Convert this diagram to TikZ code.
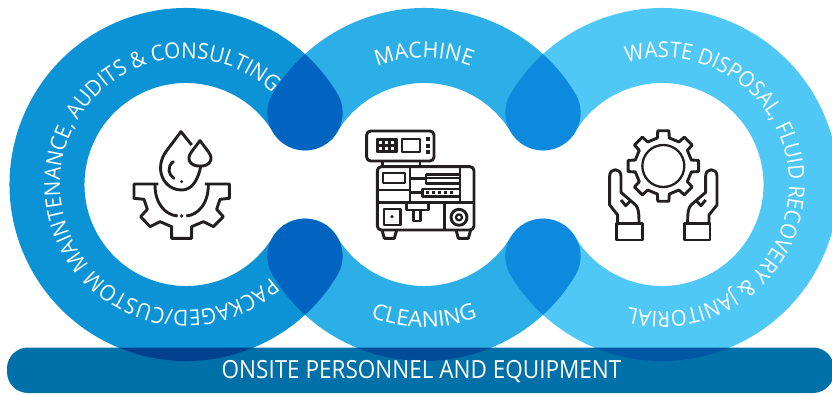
\documentclass[tikz,border=0pt]{standalone}
\usepackage{fontspec}
\usetikzlibrary{decorations.text}
\newfontfamily\ringfont[FakeStretch=0.97]{Open Sans}
\newfontfamily\cleanfont[FakeStretch=1.03]{Open Sans}
\newfontfamily\leftfont[FakeStretch=0.935]{Open Sans}
\newfontfamily\rightfont[FakeStretch=0.92]{Open Sans}
\newfontfamily\barfont[FakeStretch=0.9]{Open Sans}
\definecolor{ringa}{HTML}{0B93D5}
\definecolor{ringb}{HTML}{2CAFE6}
\definecolor{ringc}{HTML}{50C8F6}
\definecolor{barblue}{HTML}{0070A9}
\definecolor{iconink}{HTML}{231F20}
\tikzset{
  ring/.style={line width=75pt,line cap=round},
  ringlabel/.style 2 args={decorate,decoration={text along path,text align=center,
    text={|#1\fontsize{22}{26}\selectfont\color{white}|#2}}},
  icon/.style={draw=iconink,line width=2.9pt,line join=round,fill=none},
  iconthin/.style={draw=iconink,line width=2.3pt,line join=round,fill=none}
}

\begin{document}
\begin{tikzpicture}[x=1pt,y=1pt]
  \useasboundingbox (0,0) rectangle (832,394);
  \clip (0,0) rectangle (832,394);

  % rings
  \begin{scope}[blend mode=multiply]
    \draw[ring,ringa] (186,209.5) ++(31:139) arc[start angle=31,end angle=329,radius=139];
    \draw[ring,ringb] (424,209.5) ++(149:139) arc[start angle=149,end angle=31,radius=139];
    \draw[ring,ringb] (424,209.5) ++(211:139) arc[start angle=211,end angle=329,radius=139];
    \draw[ring,ringc] (662,209.5) ++(149:139) arc[start angle=149,end angle=-149,radius=139];
    \fill[barblue,rounded corners=21pt] (7,1) rectangle (834,46.5);
  \end{scope}

  % labels
  \path[ringlabel={\leftfont}{PACKAGED/CUSTOM MAINTENANCE, AUDITS {\&} CONSULTING}]
    (186,209.5) ++(325:126) arc[start angle=325,end angle=34,radius=126];
  \path[ringlabel={\ringfont}{MACHINE}]
    (424,209.5) ++(130:127) arc[start angle=130,end angle=50,radius=127];
  \path[ringlabel={\cleanfont}{CLEANING}]
    (424,209.5) ++(230:143) arc[start angle=230,end angle=310,radius=143];
  \path[ringlabel={\rightfont}{WASTE DISPOSAL, FLUID RECOVERY {\&} JANITORIAL}]
    (662,209.5) ++(122:127) arc[start angle=122,end angle=-121,radius=127];
  \node (onsite) at (421.5,22.5) [text=white,font=\barfont\fontsize{25}{28}\selectfont] {ONSITE PERSONNEL AND EQUIPMENT};

  % drop and gear
  \begin{scope}[shift={(110,284)},x=.3333pt,y=-.3333pt]
    \draw[icon] (245,105) -- (213,65) -- (170,122)
      .. controls (130,175) and (160,240) .. (215,240)
      .. controls (240,240) and (262,220) .. (272,170);
    \draw[icon] (270,92) -- (245,125) .. controls (225,150) and (245,170) .. (270,168)
      .. controls (295,170) and (315,150) .. (295,125) -- cycle;
    \draw[icon,line cap=round] (190,155) .. controls (170,170) and (175,195) .. (192,205);
    \fill[iconink] (215,215) circle[radius=5];
    \draw[icon] (145,222) -- (72,222) -- (72,265) -- (102,268) -- (112,298) -- (92,320)
      -- (120,350) -- (150,335) -- (185,350) -- (185,385) -- (245,385) -- (245,350)
      -- (280,335) -- (310,350) -- (340,320) -- (320,298) -- (330,268) -- (358,265)
      -- (358,222) -- (285,222);
    \draw[icon] (135,225) .. controls (135,280) and (165,315) .. (203,318);
    \draw[icon] (295,225) .. controls (295,280) and (265,315) .. (229,318);
    \fill[iconink] (215,318) circle[radius=5.5];
  \end{scope}

  % machine
  \begin{scope}[shift={(350,279)},x=.3333pt,y=-.3333pt]
    \draw[icon,rounded corners=4pt] (50,48) rectangle (252,138);
    \draw[iconthin,fill=iconink] (80,72) rectangle (140,112);
    \foreach \cx in {92,110,128}
      \foreach \cy in {83,101}
        \fill[white] (\cx-5,\cy-5) rectangle (\cx+5,\cy+5);
    \draw[iconthin] (155,72) rectangle (210,112);
    \foreach \cy in {72,92,112}
      \fill[iconink] (227,\cy-6) rectangle (240,\cy+6);
    \draw[icon] (98,138) -- (98,155);
    \draw[icon] (210,138) -- (210,155);
    \draw[icon,rounded corners=4pt] (82,155) rectangle (372,345);
    \draw[icon] (82,262) -- (372,262);
    \draw[icon] (180,155) -- (180,262);
    \draw[icon] (330,155) -- (330,262);
    \draw[iconthin] (100,175) rectangle (165,205);
    \draw[icon] (82,225) -- (180,225);
    \draw[icon] (180,190) -- (228,190);
    \draw[icon] (228,178) -- (330,178);
    \draw[icon] (228,178) -- (228,205) -- (330,205);
    \draw[iconthin] (228,190) -- (330,190);
    \draw[icon] (180,232) -- (218,232);
    \draw[icon] (218,222) rectangle (330,245);
    \foreach \dx in {232,250,268,286,304}
      \fill[iconink] (\dx-4,229) rectangle (\dx+4,238);
    \draw[icon] (102,282) rectangle (152,330);
    \fill[iconink] (126,305) circle[radius=5];
    \draw[icon] (170,262) -- (170,285) -- (235,285) -- (235,262);
    \draw[icon] (190,285) -- (190,318) -- (212,318) -- (212,285);
    \draw[icon] (283,262) -- (283,345);
    \draw[icon] (327,307) circle[radius=24];
    \draw[iconthin] (327,307) circle[radius=9];
    \draw[icon] (96,345) -- (103,370) -- (133,370) -- (140,345);
    \draw[icon] (318,345) -- (325,370) -- (355,370) -- (362,345);
  \end{scope}

  % hands and gear
  \begin{scope}[shift={(595,279)},x=.3333pt,y=-.3333pt]
    \begin{scope}[shift={(205,153)}]
      \draw[iconthin] (0,0) circle[radius=63];
      \draw[icon] (-12:86) -- (-9:107) -- (9:107) -- (12:86)
        \foreach \a in {45,90,...,315} { -- (\a-12:86) -- (\a-9:107) -- (\a+9:107) -- (\a+12:86) } -- cycle;
    \end{scope}
    \foreach \side in {1,-1} {
      \begin{scope}[shift={(205,0)},xscale=\side,shift={(-205,0)}]
        \draw[icon] (68,325) -- (68,300) -- (44,270) -- (44,183)
          .. controls (44,158) and (78,158) .. (78,183) -- (78,232)
          -- (122,270) .. controls (130,280) and (132,290) .. (132,325);
        \draw[icon] (108,256) -- (92,272) -- (78,255);
        \draw[icon] (65,325) rectangle (142,375);
      \end{scope}
    }
  \end{scope}
\end{tikzpicture}
\end{document}
